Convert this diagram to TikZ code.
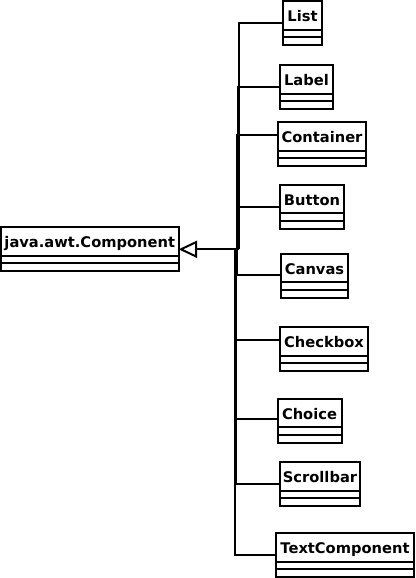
\documentclass[tikz,border=0pt]{standalone}
\usepackage{fontspec}
\setmainfont{DejaVu Sans}
\usetikzlibrary{arrows.meta}
\tikzset{
  cls/.style={draw, line width=1.5pt, anchor=north west, outer sep=0pt, inner sep=0pt,
    minimum height=21.4pt, text height=9.6pt, text depth=0pt,
    font=\fontsize{11}{12}\selectfont\bfseries},
  compart/.style={draw, line width=1.5pt},
  conn/.style={draw, line width=1.5pt},
  gen/.style={conn, -{Triangle[open, length=14pt, width=12.75pt, line width=1.5pt]}}
}
\newcommand\umlcls[5]{%
  \node[cls, minimum width=#4*0.75pt] (#1) at (#2,#3) {#5};
  \draw[compart] (#1.south west) rectangle ++(#4,7.75) (#1.south west) ++(0,7.75) rectangle ++(#4,7.75);}
\begin{document}
\begin{tikzpicture}[x=0.75pt, y=-0.75pt]
  \useasboundingbox[fill=white] (0,0) rectangle (415,578);
  \umlcls{comp}{1}{227}{177.5}{java.awt.Component}
  \umlcls{list}{283}{1}{39}{List}
  \umlcls{label}{280}{65}{53}{Label}
  \umlcls{container}{278}{122}{88}{Container}
  \umlcls{button}{280}{184.5}{64}{Button}
  \umlcls{canvas}{281}{253.5}{67}{Canvas}
  \umlcls{checkbox}{280}{327}{88}{Checkbox}
  \umlcls{choice}{277.5}{398.5}{64}{Choice}
  \umlcls{scrollbar}{280}{462}{80}{Scrollbar}
  \umlcls{textcomp}{276}{533}{138}{TextComponent}
  \coordinate (junction) at (236.5,249.3);
  \draw[conn] ([shift={(0,8)}]list.west) -| ([shift={(2,0)}]junction);
  \draw[conn] ([shift={(0,7.45)}]label.west) -| ([shift={(1,0)}]junction);
  \draw[conn] ([shift={(0,-1.25)}]container.west) -| ([shift={(0.5,0)}]junction);
  \draw[conn] ([shift={(0,7.95)}]button.west) -| ([shift={(0,0)}]junction);
  \draw[conn] ([shift={(0,7.25)}]canvas.west) -| ([shift={(0,0)}]junction);
  \draw[conn] ([shift={(0,-1.25)}]checkbox.west) -| ([shift={(-0.5,0)}]junction);
  \draw[conn] ([shift={(0,6.55)}]choice.west) -| ([shift={(-0.5,0)}]junction);
  \draw[conn] ([shift={(0,7.75)}]scrollbar.west) -| ([shift={(-1,0)}]junction);
  \draw[conn] ([shift={(0,7.75)}]textcomp.west) -| ([shift={(-1.5,0)}]junction);
  \draw[gen] ([shift={(2.5,0)}]junction) -- (comp.east |- junction);
\end{tikzpicture}
\end{document}
